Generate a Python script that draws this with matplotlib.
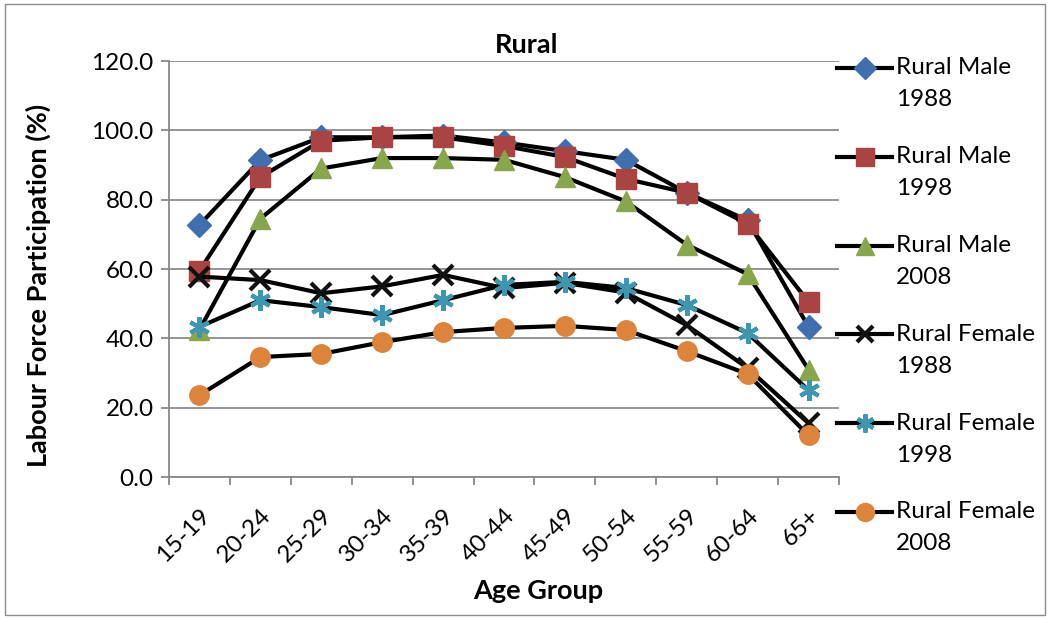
import matplotlib.pyplot as plt
from matplotlib.lines import Line2D
from matplotlib.patches import Rectangle
import numpy as np

plt.rcParams['font.family'] = ['Lato', 'DejaVu Sans']

# Data
age_groups = ['15-19', '20-24', '25-29', '30-34', '35-39', '40-44',
              '45-49', '50-54', '55-59', '60-64', '65+']
male_1988 = [72.7, 91.4, 98.0, 98.0, 98.5, 96.5, 94.0, 91.5, 82.0, 74.0, 43.3]
male_1998 = [59.5, 86.5, 97.0, 98.0, 98.0, 95.5, 92.3, 86.0, 82.0, 73.0, 50.5]
male_2008 = [42.5, 74.5, 89.0, 92.0, 92.0, 91.5, 86.5, 79.5, 67.0, 58.5, 31.0]
female_1988 = [57.8, 56.8, 53.0, 55.0, 58.3, 54.5, 56.0, 53.2, 43.8, 31.4, 15.5]
female_1998 = [43.3, 51.0, 49.0, 46.7, 51.0, 55.4, 56.3, 54.5, 49.6, 41.5, 25.0]
female_2008 = [23.6, 34.6, 35.5, 38.9, 41.8, 43.0, 43.6, 42.4, 36.3, 29.7, 12.0]

series = [
    ('Rural Male\n1988', male_1988, 'D', '#3F6FAE', 12),
    ('Rural Male\n1998', male_1998, 's', '#AA4442', 14),
    ('Rural Male\n2008', male_2008, '^', '#88A64B', 14),
    ('Rural Female\n1988', female_1988, 'x', '#111111', 14),
    ('Rural Female\n1998', female_1998, (6, 2, 0), '#3D97B0', 15),
    ('Rural Female\n2008', female_2008, 'o', '#DC843B', 14),
]

fig = plt.figure(figsize=(10.49, 6.19), dpi=100)
ax = fig.add_axes([169 / 1049, 1 - 477 / 619, 670 / 1049, 416 / 619])

x = np.arange(len(age_groups))
for i, (name, vals, mk, col, ms) in enumerate(series):
    ax.plot(x, vals, color='black', lw=3.0, zorder=3 + i, solid_joinstyle='round')
    if mk in ('x', (6, 2, 0)):
        ax.plot(x, vals, ls='none', marker=mk, ms=ms, mec=col, mew=3.0, zorder=3 + i)
    else:
        ax.plot(x, vals, ls='none', marker=mk, ms=ms, mfc=col, mec=col, zorder=3 + i)

ax.set_xlim(-0.5, len(age_groups) - 0.5)
ax.set_ylim(0, 120)
ax.set_yticks(np.arange(0, 121, 20))
ax.set_yticklabels([f'{v:.1f}' for v in np.arange(0, 121, 20)])
ax.set_xticks(x)
ax.set_xticklabels(age_groups, rotation=45, ha='right', rotation_mode='anchor')
ax.set_xticks(np.arange(-0.5, len(age_groups)), minor=True)
ax.tick_params(axis='x', which='major', length=0, pad=20, labelsize=17.5)
ax.tick_params(axis='x', which='minor', length=6, color='#888888', width=1.3)
ax.tick_params(axis='y', length=6, color='#888888', width=1.3, labelsize=17.5, pad=5)
ax.grid(axis='y', color='#8c8c8c', lw=1.3, zorder=0)
ax.set_axisbelow(True)
for s in ['top', 'right']:
    ax.spines[s].set_visible(False)
for s in ['left', 'bottom']:
    ax.spines[s].set_color('#888888')
    ax.spines[s].set_linewidth(1.3)

fig.text(527 / 1049, 1 - 45 / 619, 'Rural', ha='center', va='center',
         fontsize=19.5, fontweight='bold')
fig.text(538 / 1049, 1 - 591 / 619, 'Age Group', ha='center', va='center',
         fontsize=19.5, fontweight='bold')
fig.text(38 / 1049, 1 - 285 / 619, 'Labour Force Participation (%)', ha='center',
         va='center', rotation=90, fontsize=19.5, fontweight='bold')

# Legend, drawn entry by entry so the key sits on the first text line
for i, (name, vals, mk, col, ms) in enumerate(series):
    ytop = 68 + i * 88.8
    yc = 1 - ytop / 619
    fig.add_artist(Line2D([837 / 1049, 892 / 1049], [yc, yc], color='black', lw=3.0))
    if mk in ('x', (6, 2, 0)):
        fig.add_artist(Line2D([864.5 / 1049], [yc], ls='none', marker=mk, ms=ms - 2,
                              mec=col, mew=3.0))
    else:
        fig.add_artist(Line2D([864.5 / 1049], [yc], ls='none', marker=mk, ms=ms - 1,
                              mfc=col, mec=col))
    for j, line in enumerate(name.split('\n')):
        fig.text(896 / 1049, 1 - (ytop + 32 * j) / 619, line, ha='left',
                 va='center', fontsize=17.5)

fig.add_artist(Rectangle((5 / 1049, 4 / 619), 1040 / 1049, 611 / 619, fill=False,
                         ec='#8c8c8c', lw=1.0, transform=fig.transFigure))

fig.savefig('out.png', dpi=100)
